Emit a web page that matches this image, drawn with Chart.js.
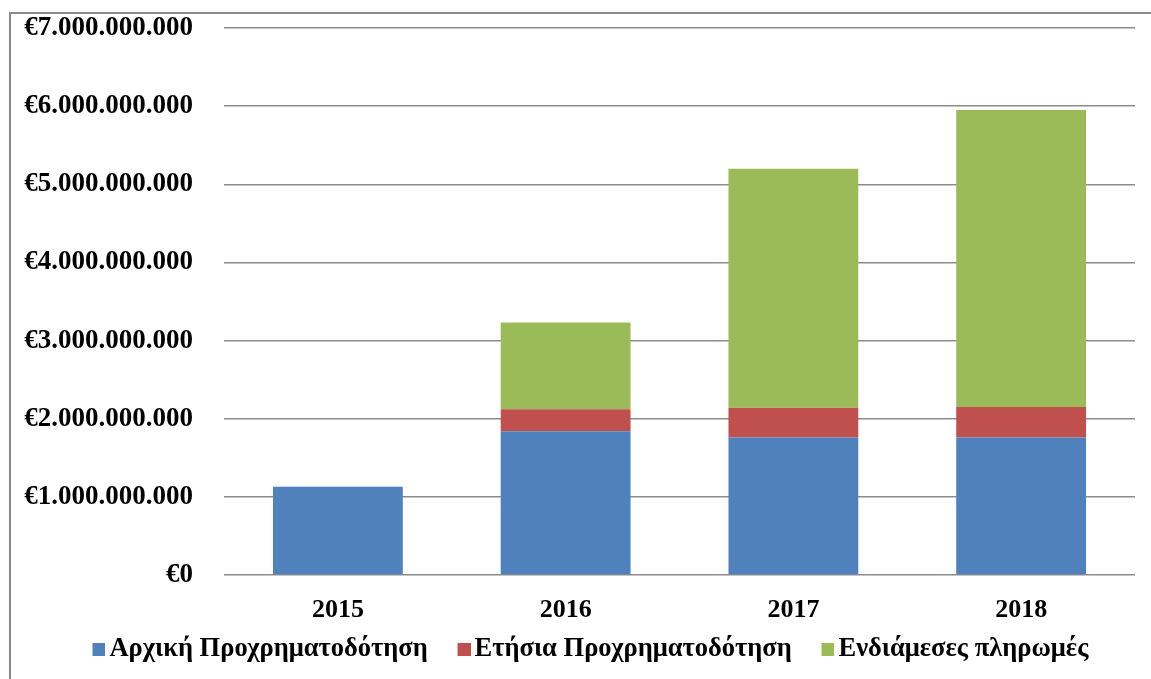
<!DOCTYPE html>
<html>
<head>
<meta charset="utf-8">
<script src="https://cdn.jsdelivr.net/npm/chart.js@4"></script>
<style>
  html, body { margin: 0; padding: 0; background: #fff; overflow: hidden; }
  #wrap { position: relative; width: 1151px; height: 679px; }
  #frame { position: absolute; left: 9px; top: 12px; width: 1200px; height: 720px; border: 2px solid #8a8a8a; box-sizing: border-box; }
  canvas { position: absolute; left: 0; top: 0; }
</style>
</head>
<body>
<div id="wrap">
  <div id="frame"></div>
  <canvas id="fundingChart" width="1151" height="679"></canvas>
</div>
<script>
// years and amounts (euro)
var years = ['2015', '2016', '2017', '2018'];
var initialPrefinancing = [1130000000, 1840000000, 1760000000, 1760000000];
var annualPrefinancing = [0, 280000000, 380000000, 390000000];
var interimPayments = [0, 1110000000, 3060000000, 3800000000];
var seriesNames = ['Αρχική Προχρηματοδότηση', 'Ετήσια Προχρηματοδότηση', 'Ενδιάμεσες πληρωμές'];
var seriesColors = ['#4F81BD', '#C0504D', '#9BBB59'];

function euro(v) {
    return '€' + String(Math.round(v)).replace(/\B(?=(\d{3})+(?!\d))/g, '.');
}

var serif = '"Liberation Serif", "Times New Roman", serif';
var tickFont = { family: serif, weight: 'bold', size: 27 };
var xFont = { family: serif, weight: 'bold', size: 26 };
var legendFont = { family: serif, weight: 'bold', size: 26.5 };

// legend marker: small square sitting at the right edge of the image,
// so the text starts close to it like in the original
function legendSquare(color) {
    var c = document.createElement('canvas');
    c.width = 30;
    c.height = 13;
    var ctx = c.getContext('2d');
    ctx.fillStyle = color;
    ctx.fillRect(17, 0, 13, 13);
    return c;
}
var legendSquares = seriesColors.map(legendSquare);

// x labels may draw into the empty top part of the legend box,
// y labels may run into the left padding (which only centres the legend)
var labelRoom = {
    id: 'labelRoom',
    afterLayout: function (chart) {
        chart.scales.x.bottom += 30;
        chart.scales.y.left = 0;
    }
};

var padLeft = 38;

var fundingChart = new Chart(document.getElementById('fundingChart'), {
    type: 'bar',
    data: {
        labels: years,
        datasets: [{
            label: seriesNames[0],
            data: initialPrefinancing,
            backgroundColor: seriesColors[0]
        }, {
            label: seriesNames[1],
            data: annualPrefinancing,
            backgroundColor: seriesColors[1]
        }, {
            label: seriesNames[2],
            data: interimPayments,
            backgroundColor: seriesColors[2]
        }]
    },
    plugins: [labelRoom],
    options: {
        responsive: false,
        animation: false,
        categoryPercentage: 1,
        barPercentage: 0.57,
        layout: { padding: { top: 0, right: 16, left: padLeft, bottom: 6.75 } },
        plugins: {
            tooltip: { enabled: false },
            legend: {
                position: 'bottom',
                labels: {
                    color: '#000',
                    font: legendFont,
                    usePointStyle: true,
                    pointStyleWidth: 11.5,
                    boxHeight: 13,
                    padding: 22,
                    generateLabels: function (chart) {
                        var items = Chart.defaults.plugins.legend.labels.generateLabels(chart);
                        items.forEach(function (item, i) { item.pointStyle = legendSquares[i]; });
                        return items;
                    }
                }
            }
        },
        scales: {
            x: {
                stacked: true,
                grid: { display: false },
                border: { display: false },
                ticks: { color: '#000', font: xFont, padding: 12 },
                afterFit: function (scale) { scale.height = 38.75; }
            },
            y: {
                stacked: true,
                min: 0,
                max: 7000000000,
                grid: { color: '#8c8c8c', lineWidth: 1.5, drawTicks: false },
                border: { display: false },
                ticks: {
                    stepSize: 1000000000,
                    color: '#000',
                    font: tickFont,
                    padding: 31,
                    callback: function (v) { return euro(v); }
                },
                afterFit: function (scale) {
                    scale.width = 224 - padLeft;
                    scale.paddingTop = 28;
                    scale.paddingBottom = 0;
                }
            }
        }
    }
});
</script>
</body>
</html>
